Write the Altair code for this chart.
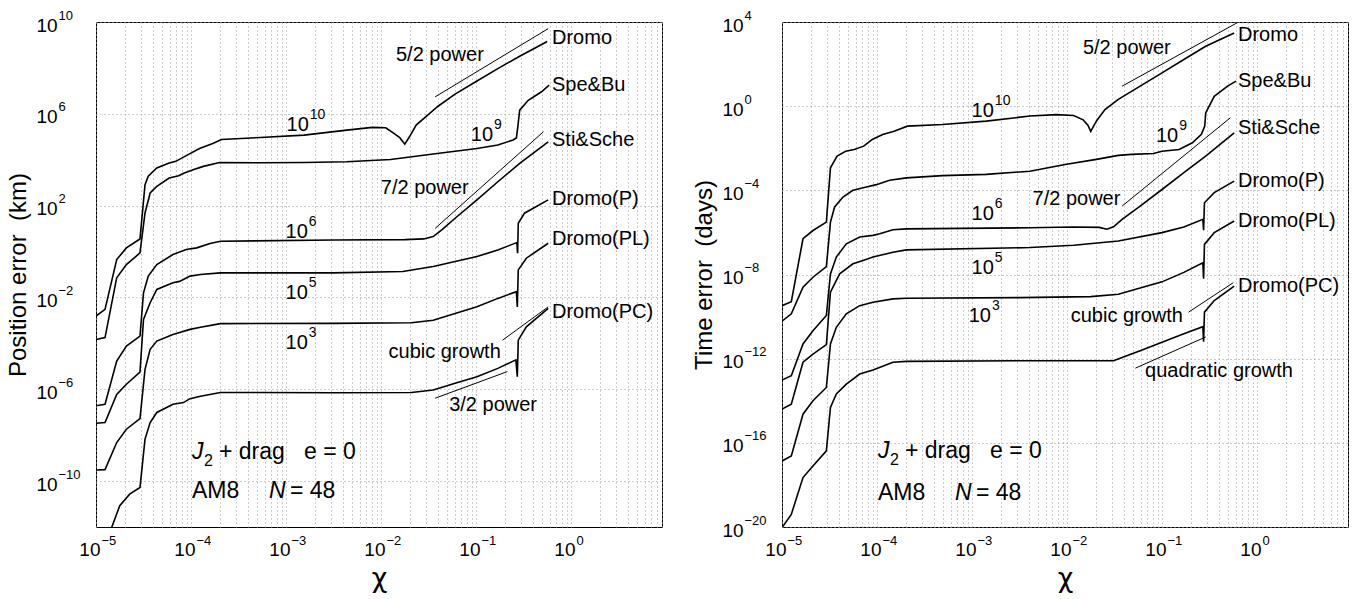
import altair as alt
import pandas as pd

FONT = "Liberation Sans"
GRID = "#9a9a9a"

# ---------------- shared x axis (chi) ----------------
X_MIN_EXP = -5
X_MAX_EXP = 0.958
X_GRID = [m * 10.0 ** k for k in range(-5, 1) for m in range(1, 10)]
X_DECADES = [10.0 ** k for k in range(-5, 1)]

# ---------------- left panel: position error (km), log10 values ----------------
L_YDOM_EXP = [-12, 10]
L_YTICK_EXP = [10, 6, 2, -2, -6, -10]

L1_LX = [-5, -4.905, -4.782, -4.68, -4.537, -4.484, -4.45, -4.36, -4.23, -4.16, -4.04, -3.91, -3.77, -3.68,
         -3.27, -2.81, -2.36, -2.09, -1.95, -1.86, -1.80, -1.75, -1.70, -1.63, -1.49, -1.40, -1.22, -0.99,
         -0.77, -0.54, -0.25]
L1_LY = [-2.81, -2.52, -0.35, 0.16, 0.55, 2.91, 3.28, 3.64, 3.86, 3.93, 4.20, 4.49, 4.71, 4.88,
         4.97, 5.07, 5.29, 5.41, 5.39, 5.14, 4.95, 4.68, 5.00, 5.51, 6.01, 6.33, 6.86, 7.43,
         7.97, 8.51, 9.15]
L2_LX = [-5, -4.905, -4.782, -4.68, -4.537, -4.484, -4.43, -4.36, -4.23, -4.13, -4.07, -3.97, -3.87, -3.70,
         -3.27, -2.81, -2.36, -1.90, -1.45, -0.99, -0.77, -0.61, -0.575, -0.56, -0.54, -0.45, -0.31, -0.23]
L2_LY = [-3.83, -3.75, -1.14, -0.57, -0.06, 1.68, 2.55, 2.84, 3.20, 3.30, 3.42, 3.57, 3.71, 3.88,
         3.87, 3.88, 3.91, 4.01, 4.25, 4.49, 4.64, 4.86, 4.95, 5.43, 6.16, 6.59, 6.96, 7.25]
L3_LX = [-5, -4.905, -4.782, -4.68, -4.537, -4.50, -4.45, -4.36, -4.19, -4.05, -3.94, -3.80, -3.69,
         -2.5, -1.75, -1.55, -1.45, -1.36, -1.22, -0.99, -0.77, -0.54, -0.24]
L3_LY = [-6.72, -6.65, -4.77, -4.12, -3.68, -1.80, -1.07, -0.57, -0.13, 0.09, 0.16, 0.35, 0.45,
         0.50, 0.52, 0.55, 0.65, 0.94, 1.45, 2.25, 3.04, 3.84, 4.78]
L4_LX = [-5, -4.905, -4.782, -4.68, -4.537, -4.50, -4.43, -4.36, -4.19, -4.12, -4.01, -3.90, -3.69,
         -2.5, -1.77, -1.45, -0.99, -0.77, -0.57, -0.562, -0.555, -0.49, -0.24]
L4_LY = [-7.48, -7.45, -6.22, -5.78, -5.25, -2.96, -2.23, -1.65, -1.36, -1.30, -1.07, -1.00, -0.93,
         -0.93, -0.87, -0.65, -0.22, 0.07, 0.39, -0.07, 1.23, 1.67, 2.25]
L5_LX = [-5, -4.905, -4.782, -4.68, -4.537, -4.484, -4.43, -4.36, -4.19, -4.01, -3.90, -3.69,
         -2.5, -1.68, -1.45, -0.99, -0.77, -0.575, -0.565, -0.555, -0.47, -0.24]
L5_LY = [-9.52, -9.50, -8.32, -7.74, -7.28, -5.13, -4.26, -3.90, -3.61, -3.39, -3.30, -3.14,
         -3.13, -3.10, -2.99, -2.41, -2.04, -1.75, -2.41, -0.80, -0.29, 0.36]
L6_LX = [-4.86, -4.75, -4.646, -4.537, -4.484, -4.43, -4.36, -4.19, -4.08, -4.01, -3.90, -3.69,
         -2.5, -1.68, -1.45, -1.22, -0.99, -0.77, -0.58, -0.565, -0.555, -0.47, -0.24]
L6_LY = [-12.3, -11.07, -10.57, -10.28, -8.17, -7.45, -7.01, -6.65, -6.58, -6.41, -6.30, -6.14,
         -6.15, -6.14, -6.03, -5.74, -5.45, -5.09, -4.72, -5.45, -3.86, -3.28, -2.48]

L_GUIDE_LX = [[-1.43, -0.24], [-1.43, -0.29], [-0.72, -0.24], [-1.43, -0.67]]
L_GUIDE_LY = [[6.74, 9.71], [1.01, 5.22], [-3.86, -2.41], [-6.39, -5.23]]

NAMES = ["Dromo", "Spe&Bu", "Sti&Sche", "Dromo(P)", "Dromo(PL)", "Dromo(PC)"]
NAME_LX = -0.2
L_NAME_LY = [9.3, 7.25, 4.86, 2.29, 0.54, -2.62]

NUM_EXP = ["10", "9", "6", "5", "3"]
L_NUM_LX = [-2.76, -0.82, -2.77, -2.77, -2.77]
L_NUM_LY = [5.51, 5.07, 0.87, -1.81, -4.0]

L_NOTE_TEXT = ["5/2 power", "7/2 power", "cubic growth", "3/2 power"]
L_NOTE_LX = [-1.38, -1.54, -1.33, -0.82]
L_NOTE_LY = [8.55, 2.75, -4.36, -6.68]

L_FORM_LX = -3.99
L_FORM_LY = [-8.74, -10.42]

# ---------------- right panel: time error (days), log10 values ----------------
R_YDOM_EXP = [-20, 4]
R_YTICK_EXP = [4, 0, -4, -8, -12, -16, -20]

R1_LX = [-5, -4.902, -4.779, -4.674, -4.533, -4.49, -4.42, -4.33, -4.24, -4.14, -4.05, -3.94, -3.82, -3.68,
         -3.31, -2.85, -2.39, -2.11, -1.93, -1.83, -1.78, -1.75, -1.72, -1.69, -1.60, -1.46, -1.23, -1.0,
         -0.77, -0.54, -0.24]
R1_LY = [-9.48, -9.29, -6.30, -5.91, -5.51, -2.93, -2.37, -2.14, -2.06, -1.90, -1.58, -1.35, -1.19, -0.95,
         -0.87, -0.71, -0.47, -0.40, -0.44, -0.65, -0.90, -1.20, -0.95, -0.70, -0.16, 0.32, 0.95, 1.58,
         2.22, 2.85, 3.48]
R2_LX = [-5, -4.902, -4.779, -4.674, -4.533, -4.49, -4.446, -4.358, -4.253, -4.112, -4.007, -3.867, -3.691,
         -3.31, -2.85, -2.39, -2.02, -1.69, -1.46, -1.32, -1.09, -1.0, -0.82, -0.68, -0.585, -0.55, -0.54,
         -0.45, -0.31, -0.22]
R2_LY = [-10.22, -9.87, -8.60, -8.13, -7.62, -5.51, -4.79, -4.32, -4.00, -3.84, -3.73, -3.52, -3.41,
         -3.30, -3.24, -3.09, -2.77, -2.53, -2.34, -2.29, -2.25, -2.14, -2.06, -1.74, -1.34, -0.95, -0.32,
         0.47, 0.95, 1.19]
R3_LX = [-5, -4.902, -4.779, -4.674, -4.533, -4.49, -4.428, -4.323, -4.182, -4.042, -3.972, -3.832, -3.691,
         -2.39, -1.93, -1.66, -1.58, -1.51, -1.42, -1.23, -1.0, -0.77, -0.54, -0.24]
R3_LY = [-13.02, -12.81, -11.30, -10.67, -9.95, -7.97, -7.17, -6.54, -6.22, -6.14, -6.06, -5.87, -5.83,
         -5.78, -5.74, -5.76, -5.85, -5.73, -5.38, -4.75, -3.96, -3.16, -2.37, -1.27]
R4_LX = [-5, -4.902, -4.779, -4.674, -4.533, -4.49, -4.393, -4.253, -4.147, -4.042, -3.832, -3.691,
         -2.39, -1.93, -1.46, -1.0, -0.77, -0.57, -0.562, -0.553, -0.45, -0.24]
R4_LY = [-14.40, -14.16, -12.17, -11.78, -11.33, -8.84, -7.97, -7.49, -7.33, -7.17, -6.94, -6.83,
         -6.72, -6.61, -6.41, -6.01, -5.74, -5.38, -5.90, -4.59, -4.11, -3.56]
R5_LX = [-5, -4.902, -4.779, -4.674, -4.533, -4.49, -4.428, -4.323, -4.182, -4.042, -3.832, -3.691,
         -2.5, -1.75, -1.46, -1.0, -0.77, -0.57, -0.562, -0.553, -0.45, -0.24]
R5_LY = [-16.86, -16.62, -14.64, -14.00, -13.37, -11.30, -10.51, -9.87, -9.48, -9.32, -9.16, -9.13,
         -9.10, -9.05, -8.94, -8.35, -7.90, -7.44, -8.20, -6.57, -6.01, -5.46]
R6_LX = [-5, -4.902, -4.779, -4.674, -4.533, -4.49, -4.428, -4.323, -4.182, -4.042, -3.832, -3.691,
         -2.5, -1.51, -1.42, -1.23, -1.0, -0.77, -0.57, -0.562, -0.553, -0.45, -0.24]
R6_LY = [-20.03, -19.40, -17.65, -17.10, -16.38, -14.32, -13.68, -13.21, -12.73, -12.54, -12.17, -12.13,
         -12.10, -12.10, -11.94, -11.62, -11.22, -10.82, -10.48, -11.20, -9.79, -9.24, -8.55]

R_GUIDE_LX = [[-1.42, -0.21], [-1.42, -0.28], [-0.72, -0.25], [-1.28, -0.54]]
R_GUIDE_LY = [[0.95, 3.96], [-4.75, -0.55], [-9.79, -8.39], [-12.45, -10.97]]

R_NAME_LY = [3.40, 1.19, -1.03, -3.56, -5.46, -8.54]

R_NUM_LX = [-2.77, -0.83, -2.77, -2.77, -2.80]
R_NUM_LY = [-0.24, -1.42, -5.14, -7.67, -9.95]

R_NOTE_TEXT = ["5/2 power", "7/2 power", "cubic growth", "quadratic growth"]
R_NOTE_LX = [-1.37, -1.90, -1.37, -0.40]
R_NOTE_LY = [2.77, -4.43, -9.95, -12.57]

R_FORM_LX = -3.99
R_FORM_LY = [-16.38, -18.37]

DEC_EXPR = ("abs(log(datum.value)/LN10 - round(log(datum.value)/LN10)) < 0.001 ? '10' : ''")
EXP_EXPR = ("(round(log(datum.value)/LN10) < 0 ? '\u2212' : '') + abs(round(log(datum.value)/LN10))")


def p10(v):
    return 10.0 ** v


def curves_df(curves):
    rows = []
    for name, lx, ly in curves:
        for i, (a, b) in enumerate(zip(lx, ly)):
            rows.append({"curve": name, "i": i, "x": p10(a), "y": p10(b)})
    return pd.DataFrame(rows)


def guides_df(gx, gy):
    rows = []
    for k, (xx, yy) in enumerate(zip(gx, gy)):
        for i in range(2):
            rows.append({"g": k, "i": i, "x": p10(xx[i]), "y": p10(yy[i])})
    return pd.DataFrame(rows)


def pts_df(lx, ly, texts):
    return pd.DataFrame({"x": [p10(v) for v in lx], "y": [p10(v) for v in ly], "t": texts})


def panel(curves, gx, gy, name_ly, num_lx, num_ly, note_t, note_lx, note_ly,
          form_lx, form_ly, ydom_exp, ytick_exp, ytitle):
    xs = alt.Scale(type="log", domain=[p10(X_MIN_EXP), p10(X_MAX_EXP)], nice=False)
    ys = alt.Scale(type="log", domain=[p10(ydom_exp[0]), p10(ydom_exp[1])], nice=False)
    yticks = [p10(v) for v in ytick_exp]

    def X(axis=None):
        if axis is None:
            return alt.X("x:Q", scale=xs, axis=None)
        return alt.X("x:Q", scale=xs, axis=axis)

    def Y(axis=None):
        if axis is None:
            return alt.Y("y:Q", scale=ys, axis=None)
        return alt.Y("y:Q", scale=ys, axis=axis)

    x_base_axis = alt.Axis(values=X_GRID, labelExpr=DEC_EXPR, grid=True, gridDash=[1, 3],
                           gridColor=GRID, gridWidth=1, ticks=False, tickSize=0, domain=False,
                           labelFontSize=19, labelAlign="right", labelBaseline="top", labelOffset=4,
                           labelPadding=13, labelOverlap=False, labelFlush=False,
                           title="\u03c7", titleFontSize=27, titleFontWeight="normal",
                           titleFont="DejaVu Sans", titlePadding=6, orient="bottom")
    y_base_axis = alt.Axis(values=yticks, labelExpr="'10'", grid=True, gridDash=[1, 3],
                           gridColor=GRID, gridWidth=1, ticks=False, tickSize=0, domain=False,
                           labelFontSize=19, labelAlign="left", labelBaseline="middle", labelOffset=3,
                           labelPadding=60, labelOverlap=False, labelFlush=False,
                           title=ytitle, titleFontSize=24, titleFontWeight="normal",
                           titlePadding=6, orient="left")
    x_exp_axis = alt.Axis(values=X_DECADES, labelExpr=EXP_EXPR, grid=False, ticks=False, tickSize=0,
                          domain=False, labelFontSize=13, labelAlign="left", labelBaseline="top",
                          labelOffset=5, labelPadding=7, labelOverlap=False, labelFlush=False,
                          title=None, orient="bottom")
    y_exp_axis = alt.Axis(values=yticks, labelExpr=EXP_EXPR, grid=False, ticks=False, tickSize=0,
                          domain=False, labelFontSize=13, labelAlign="left", labelBaseline="middle",
                          labelOffset=-7, labelPadding=38, labelOverlap=False, labelFlush=False,
                          title=None, orient="left")

    cdf = curves_df(curves)
    lines = alt.Chart(cdf).mark_line(color="black", strokeWidth=1.6, clip=True).encode(
        x=X(x_base_axis), y=Y(y_base_axis), detail="curve:N", order="i:Q")

    gdf = guides_df(gx, gy)
    guides = alt.Chart(gdf).mark_line(color="black", strokeWidth=1, clip=True).encode(
        x=X(), y=Y(), detail="g:N", order="i:Q")

    ndf = pts_df([NAME_LX] * len(NAMES), name_ly, NAMES)
    names = alt.Chart(ndf).mark_text(align="left", baseline="middle", fontSize=20, font=FONT,
                                     color="black").encode(x=X(), y=Y(), text="t:N")

    mdf = pts_df(num_lx, num_ly, NUM_EXP)
    num_base = alt.Chart(mdf).mark_text(align="right", baseline="middle", fontSize=20, font=FONT,
                                        color="black", text="10").encode(x=X(), y=Y())
    num_exp = alt.Chart(mdf).mark_text(align="left", baseline="middle", fontSize=14, font=FONT,
                                       color="black", dx=1, dy=-10).encode(x=X(), y=Y(), text="t:N")

    tdf = pts_df(note_lx, note_ly, note_t)
    notes = alt.Chart(tdf).mark_text(align="center", baseline="middle", fontSize=20, font=FONT,
                                     color="black").encode(x=X(), y=Y(), text="t:N")

    f1 = pts_df([form_lx], [form_ly[0]], ["J"])
    f2 = pts_df([form_lx], [form_ly[1]], ["AM8"])
    fj = alt.Chart(f1).mark_text(align="left", baseline="middle", fontSize=23, font=FONT,
                                 fontStyle="italic", color="black").encode(x=X(), y=Y(), text="t:N")
    fsub = alt.Chart(f1).mark_text(align="left", baseline="middle", fontSize=16, font=FONT,
                                   color="black", dx=12, dy=9, text="2").encode(x=X(), y=Y())
    frest = alt.Chart(f1).mark_text(align="left", baseline="middle", fontSize=23, font=FONT,
                                    color="black", dx=27,
                                    text="+ drag\u00a0\u00a0\u00a0e = 0").encode(x=X(), y=Y())
    fam = alt.Chart(f2).mark_text(align="left", baseline="middle", fontSize=23, font=FONT,
                                  color="black").encode(x=X(), y=Y(), text="t:N")
    fn = alt.Chart(f2).mark_text(align="left", baseline="middle", fontSize=23, font=FONT,
                                 fontStyle="italic", color="black", dx=77, text="N").encode(x=X(), y=Y())
    feq = alt.Chart(f2).mark_text(align="left", baseline="middle", fontSize=23, font=FONT,
                                  color="black", dx=98, text="= 48").encode(x=X(), y=Y())

    expdf = pd.DataFrame({"x": [p10(-3)], "y": [yticks[2]]})
    exp_layer = alt.Chart(expdf).mark_point(opacity=0).encode(x=X(x_exp_axis), y=Y(y_exp_axis))

    return alt.layer(lines, guides, names, num_base, num_exp, notes, fj, fsub, frest, fam, fn, feq,
                     exp_layer).resolve_axis(x="independent", y="independent").properties(
        width=566, height=505)


left = panel(
    [("Dromo", L1_LX, L1_LY), ("Spe&Bu", L2_LX, L2_LY), ("Sti&Sche", L3_LX, L3_LY),
     ("Dromo(P)", L4_LX, L4_LY), ("Dromo(PL)", L5_LX, L5_LY), ("Dromo(PC)", L6_LX, L6_LY)],
    L_GUIDE_LX, L_GUIDE_LY, L_NAME_LY, L_NUM_LX, L_NUM_LY, L_NOTE_TEXT, L_NOTE_LX, L_NOTE_LY,
    L_FORM_LX, L_FORM_LY, L_YDOM_EXP, L_YTICK_EXP, "Position error\u00a0\u00a0(km)")

right = panel(
    [("Dromo", R1_LX, R1_LY), ("Spe&Bu", R2_LX, R2_LY), ("Sti&Sche", R3_LX, R3_LY),
     ("Dromo(P)", R4_LX, R4_LY), ("Dromo(PL)", R5_LX, R5_LY), ("Dromo(PC)", R6_LX, R6_LY)],
    R_GUIDE_LX, R_GUIDE_LY, R_NAME_LY, R_NUM_LX, R_NUM_LY, R_NOTE_TEXT, R_NOTE_LX, R_NOTE_LY,
    R_FORM_LX, R_FORM_LY, R_YDOM_EXP, R_YTICK_EXP, "Time error\u00a0\u00a0(days)")

chart = alt.hconcat(left, right, spacing=24).properties(
    padding={"left": 5, "top": 8, "right": 5, "bottom": 2},
    background="white",
).configure_view(stroke="black", strokeWidth=1).configure_axis(
    labelFont=FONT, titleFont=FONT, labelColor="black", titleColor="black"
).configure_text(font=FONT)

chart.save("out.html", embed_options={"renderer": "svg", "actions": False})
